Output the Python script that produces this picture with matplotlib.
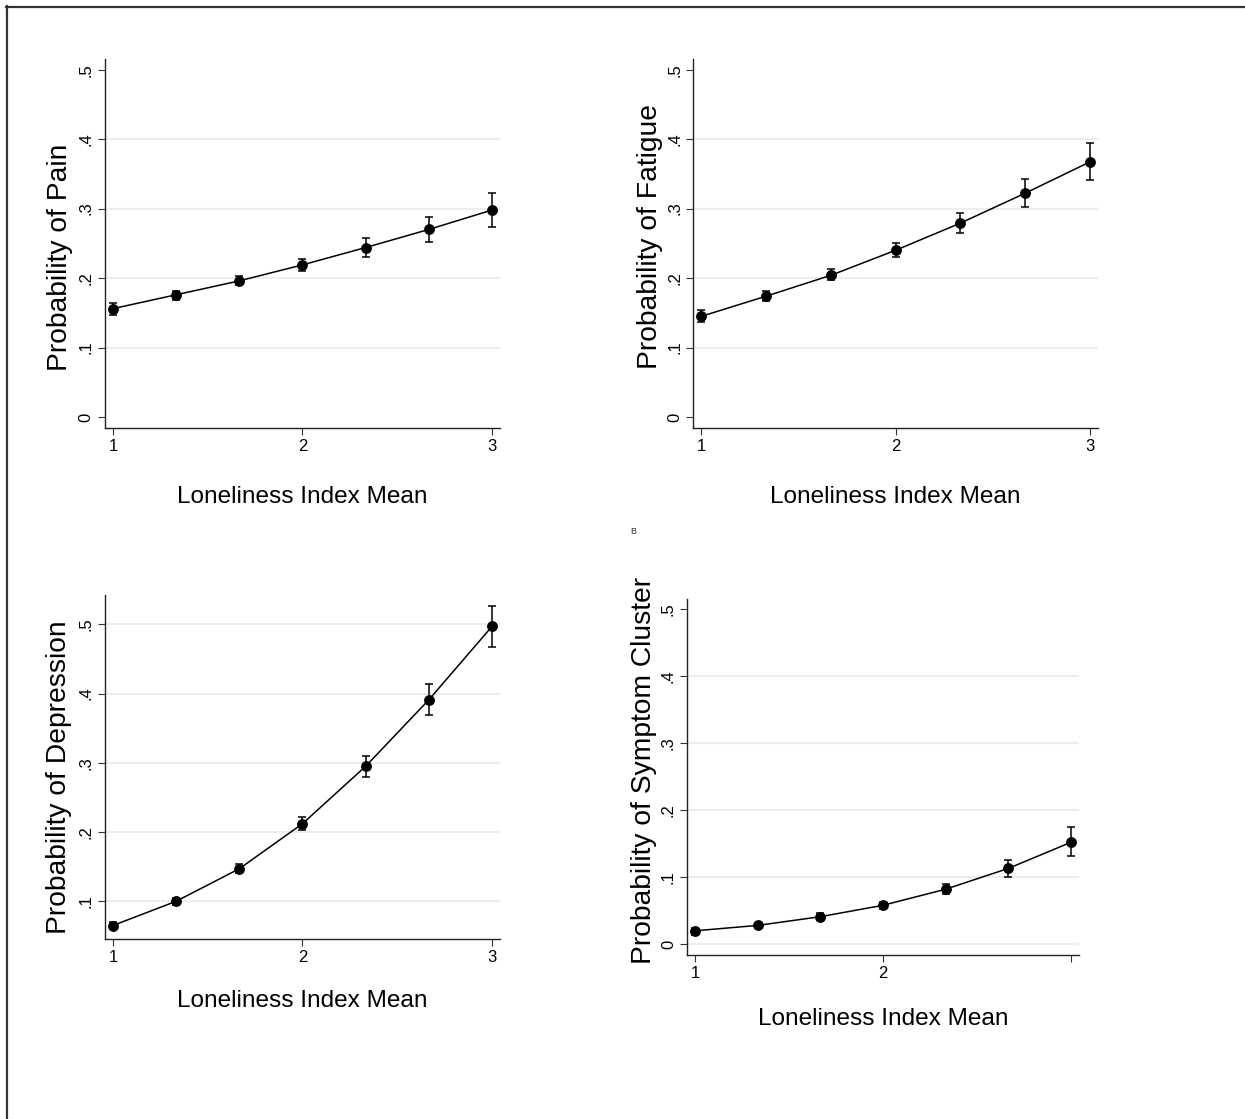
import numpy as np
import matplotlib.pyplot as plt
from matplotlib.lines import Line2D

plt.rcParams['font.family'] = ['Liberation Sans', 'DejaVu Sans']

# loneliness index values where the margins were evaluated
loneliness = [1, 4 / 3, 5 / 3, 2, 7 / 3, 8 / 3, 3]

pain = [0.156, 0.176, 0.196, 0.219, 0.244, 0.270, 0.298]
pain_lo = [0.147, 0.168, 0.190, 0.210, 0.231, 0.252, 0.274]
pain_hi = [0.164, 0.182, 0.203, 0.228, 0.257, 0.288, 0.322]

fatigue = [0.145, 0.174, 0.204, 0.240, 0.279, 0.322, 0.367]
fatigue_lo = [0.137, 0.167, 0.197, 0.231, 0.265, 0.302, 0.341]
fatigue_hi = [0.154, 0.181, 0.213, 0.250, 0.294, 0.342, 0.394]

depression = [0.065, 0.100, 0.147, 0.212, 0.295, 0.391, 0.497]
depression_lo = [0.060, 0.094, 0.141, 0.203, 0.279, 0.369, 0.467]
depression_hi = [0.070, 0.105, 0.154, 0.222, 0.310, 0.414, 0.527]

cluster = [0.020, 0.028, 0.041, 0.058, 0.082, 0.113, 0.152]
cluster_lo = [0.014, 0.024, 0.036, 0.053, 0.075, 0.100, 0.131]
cluster_hi = [0.024, 0.032, 0.046, 0.063, 0.090, 0.126, 0.174]

yticks_full = [0, 0.1, 0.2, 0.3, 0.4, 0.5]
yticks_dep = [0.1, 0.2, 0.3, 0.4, 0.5]
ytick_labels = {0: '0', 0.1: '.1', 0.2: '.2', 0.3: '.3', 0.4: '.4', 0.5: '.5'}
xticks = [1, 2, 3]

fig = plt.figure(figsize=(12.45, 11.19), dpi=100)

# only the top and left edges of the outer frame are visible
fig.add_artist(Line2D([6 / 1245, 1], [1 - 6.5 / 1119] * 2, color='#333333', lw=1.6))
fig.add_artist(Line2D([6.5 / 1245] * 2, [0, 1 - 6 / 1119], color='#333333', lw=1.6))

panels = [
    # rect, ylim, series, ylabel, yticks, grid lines, xtick labels, label pos
    ([0.0843, 0.6175, 0.3173, 0.3298], (-0.0158, 0.5154), (pain, pain_lo, pain_hi),
     'Probability of Pain', yticks_full, [0.1, 0.2, 0.3, 0.4], ['1', '2', '3'], (-0.114, 0.463), -0.203),
    ([0.5569, 0.6175, 0.3248, 0.3298], (-0.0158, 0.5154), (fatigue, fatigue_lo, fatigue_hi),
     'Probability of Fatigue', yticks_full, [0.1, 0.2, 0.3, 0.4], ['1', '2', '3'], (-0.106, 0.518), -0.203),
    ([0.0843, 0.1609, 0.3173, 0.3074], (0.0456, 0.5424), (depression, depression_lo, depression_hi),
     'Probability of Depression', yticks_dep, [0.1, 0.2, 0.3, 0.4, 0.5], ['1', '2', '3'], (-0.116, 0.471), -0.197),
    ([0.5518, 0.1466, 0.3149, 0.3181], (-0.016, 0.5144), (cluster, cluster_lo, cluster_hi),
     'Probability of Symptom Cluster', yticks_full, [0, 0.1, 0.2, 0.3, 0.4], ['1', '2', ''], (-0.110, 0.517), -0.197),
]

for rect, ylim, (est, lo, hi), ylabel, yt, grid, xtl, lab_pos, xlab_y in panels:
    ax = fig.add_axes(rect)
    est = np.array(est)
    yerr = [est - np.array(lo), np.array(hi) - est]
    for g in grid:
        ax.axhline(g, color='#e6eff2', lw=1.5, zorder=0)
    ax.errorbar(loneliness, est, yerr=yerr, fmt='o-', color='black', ms=6.8,
                lw=1.1, elinewidth=1.1, capsize=3.2, capthick=1.1, zorder=3)
    ax.set_xlim(0.958, 3.042)
    ax.set_ylim(*ylim)
    ax.set_xticks(xticks)
    ax.set_xticklabels(xtl)
    ax.set_yticks(yt)
    ax.set_yticklabels([ytick_labels[v] for v in yt], rotation=90, va='center')
    ax.tick_params(axis='both', labelsize=12, length=5, width=0.8, color='#333333', pad=3)
    for side in ['top', 'right']:
        ax.spines[side].set_visible(False)
    for side in ['left', 'bottom']:
        ax.spines[side].set_linewidth(1.0)
        ax.spines[side].set_color('#222222')
    ax.text(lab_pos[0], lab_pos[1], ylabel, transform=ax.transAxes, rotation=90,
            ha='center', va='center', fontsize=20.3)
    ax.text(0.5, xlab_y, 'Loneliness Index Mean', transform=ax.transAxes,
            ha='center', va='baseline', fontsize=17.6)

fig.text(633 / 1245, 1 - 532 / 1119, 'B', fontsize=6.5, color='#333333', ha='center', va='center')

fig.savefig('out.png', dpi=100)
